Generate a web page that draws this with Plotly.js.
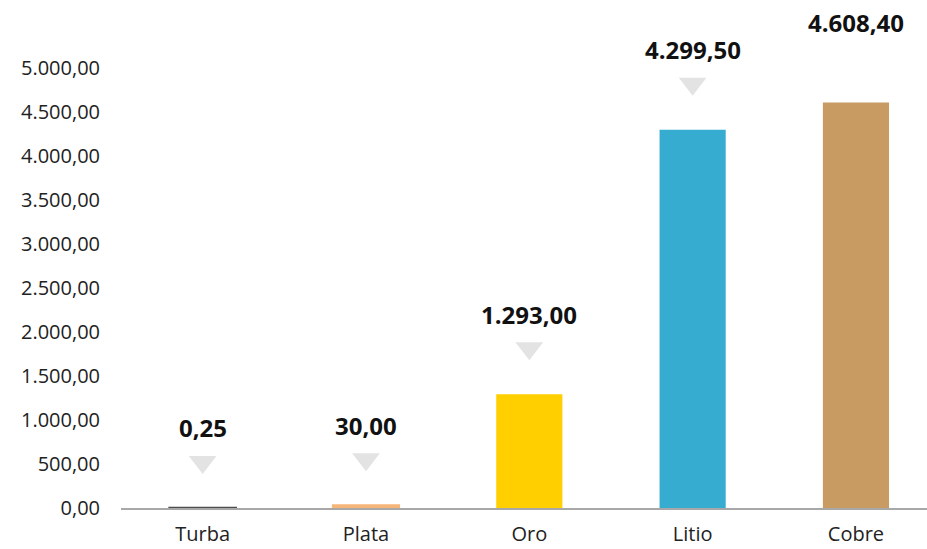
<!DOCTYPE html>
<html><head><meta charset="utf-8">
<script src="https://cdn.plot.ly/plotly-3.0.1.min.js"></script>
<style>html,body{margin:0;padding:0;background:#fff}#c{width:927px;height:549px}</style>
</head><body><div id="c"></div>
<script>
const categories = ["Turba","Plata","Oro","Litio","Cobre"];
const values = [0.25, 30.00, 1293.00, 4299.50, 4608.40];
const labels = ["0,25","30,00","1.293,00","4.299,50","4.608,40"];
const colors = ["#4d4d4d","#f7b679","#ffcf00","#37acd1","#c89b63"];
const tickVals = [0,500,1000,1500,2000,2500,3000,3500,4000,4500,5000];
const tickText = ["0,00","500,00","1.000,00","1.500,00","2.000,00","2.500,00","3.000,00","3.500,00","4.000,00","4.500,00","5.000,00"];

const H = 549, T = 68, B = 41;
const plotH = H - T - B;
const yMax = 5000;
const pxPerUnit = plotH / yMax;
const triOffset = 46 / pxPerUnit;

const bars = {
  type: "bar", x: categories, y: values, width: 0.405,
  marker: {color: colors, line: {width: [2.5, 2, 0, 0, 0], color: colors}},
  hoverinfo: "skip", cliponaxis: false
};
const tris = {
  type: "scatter", mode: "markers", x: categories,
  y: values.map(v => v + triOffset),
  marker: {symbol: "triangle-down", size: 24, color: "#e3e3e3", line: {width: 0}},
  cliponaxis: false, hoverinfo: "skip"
};
const annotations = categories.map((c, i) => ({
  x: c, y: values[i], xref: "x", yref: "y", text: labels[i],
  showarrow: false, yshift: 80, yanchor: "middle",
  font: {family: "Open Sans", size: 24, color: "#111", weight: 700}
}));

const layout = {
  width: 927, height: 549,
  margin: {l: 121, r: 0, t: T, b: B, pad: 0},
  paper_bgcolor: "#fff", plot_bgcolor: "#fff",
  showlegend: false,
  font: {family: "Open Sans", color: "#222"},
  xaxis: {
    type: "category", range: [-0.5, 4.435], fixedrange: true,
    showline: true, linecolor: "#a8a8a8", linewidth: 1.5,
    showgrid: false, zeroline: false, ticks: "",
    tickfont: {family: "Open Sans", size: 20, color: "#222"},
    ticklabelstandoff: 7
  },
  yaxis: {
    range: [0, yMax], fixedrange: true,
    tickvals: tickVals, ticktext: tickText,
    showgrid: false, zeroline: false, showline: false, ticks: "",
    tickfont: {family: "Open Sans", size: 20, color: "#222"},
    ticklabelstandoff: 20
  },
  annotations: annotations
};
Plotly.newPlot("c", [bars, tris], layout, {displayModeBar: false, staticPlot: true});
</script></body></html>
